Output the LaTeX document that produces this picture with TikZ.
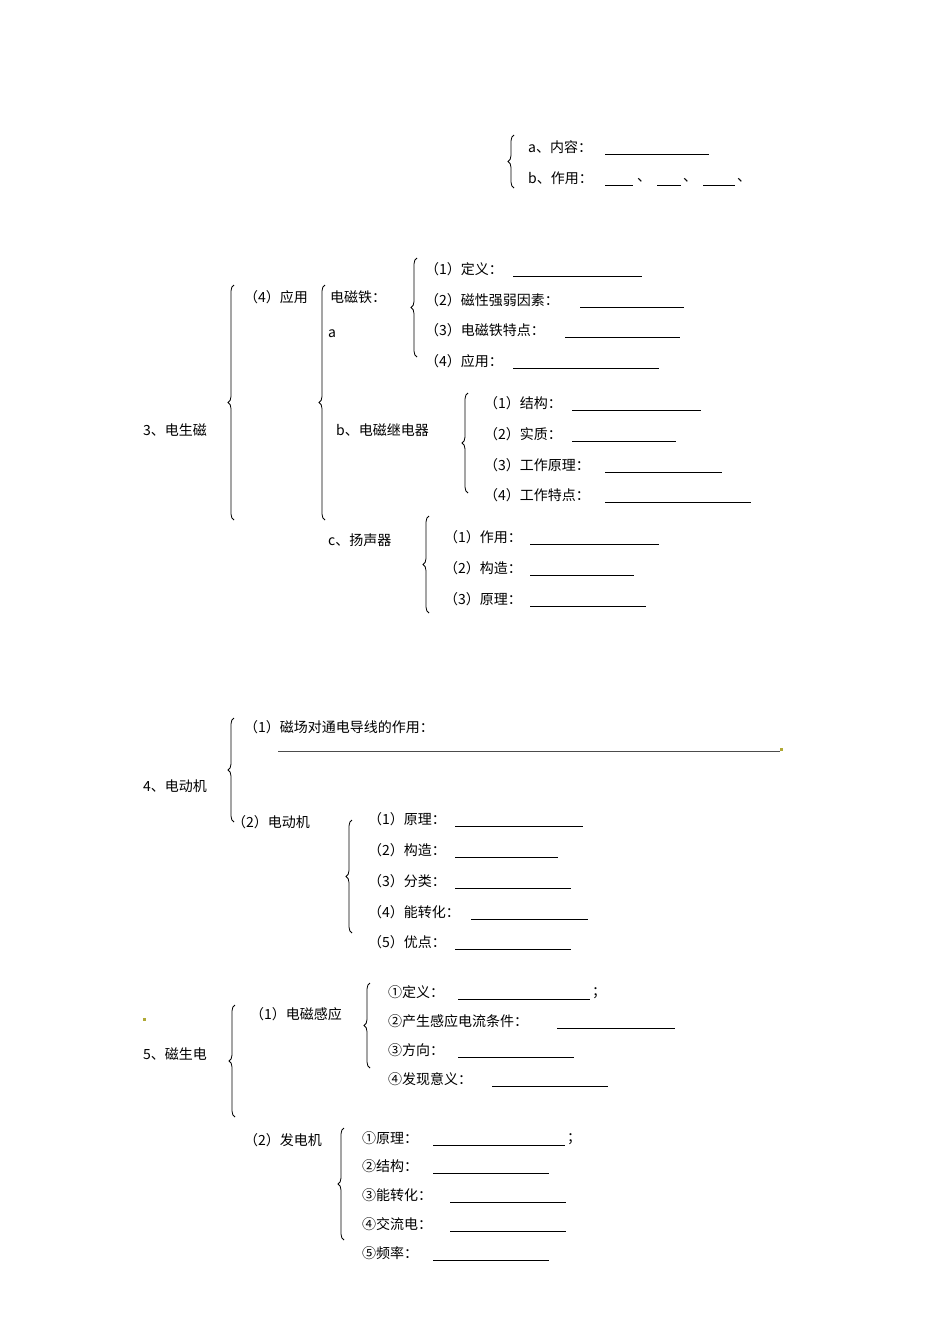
\documentclass[tikz,border=0pt]{standalone}
\usepackage{fontspec}
\setmainfont{Noto Sans CJK SC}
\usetikzlibrary{decorations.pathreplacing}
\tikzset{lbl/.style={anchor=west,inner sep=0pt,font=\fontsize{14}{16}\selectfont},
 blank/.style={line width=0.9pt},
 brc/.style={decorate,decoration={brace,amplitude=6pt,aspect=0.5},line width=0.8pt}}
\newcommand{\itm}[6]{\node[lbl] (#1) at (#2,#3) {#4}; \draw[blank] (#5,#3+7) -- (#6,#3+7);}
\newcommand{\brc}[4]{\draw[brc] (#1,#3) -- (#1,#2) node[pos=0.5] (#4) {};}
\begin{document}
\begin{tikzpicture}[x=1pt,y=-1pt]
\useasboundingbox (0,0) rectangle (950,1344);
% top
\brc{514}{135}{188}{bt}
\itm{ta}{528}{147}{a、内容：}{605}{709}
\node[lbl] (tb) at (528,178) {b、作用：};
\draw[blank] (605,185) -- (633,185); \node[lbl] (tb1) at (637,180) {、};
\draw[blank] (657,185) -- (681,185); \node[lbl] (tb2) at (683,180) {、};
\draw[blank] (703,185) -- (735,185); \node[lbl] (tb3) at (737,180) {、};
% section 3
\node[lbl] (s3) at (143,430) {3、电生磁};
\brc{234}{285}{520}{b3}
\node[lbl] (s34) at (244,297) {（4）应用};
\brc{325}{285}{520}{b34}
\node[lbl] (dct) at (330,297) {电磁铁：};
\node[lbl] (da) at (328,334) {a};
\brc{417}{258}{357}{bdct}
\itm{d1}{425}{269}{（1）定义：}{513}{642}
\itm{d2}{425}{300}{（2）磁性强弱因素：}{580}{684}
\itm{d3}{425}{330}{（3）电磁铁特点：}{565}{680}
\itm{d4}{425}{361}{（4）应用：}{513}{659}
\node[lbl] (jdq) at (336,430) {b、电磁继电器};
\brc{468}{393}{493}{bjdq}
\itm{j1}{484}{403}{（1）结构：}{572}{701}
\itm{j2}{484}{434}{（2）实质：}{572}{676}
\itm{j3}{484}{465}{（3）工作原理：}{605}{722}
\itm{j4}{484}{495}{（4）工作特点：}{605}{751}
\node[lbl] (ysq) at (328,540) {c、扬声器};
\brc{429}{516}{613}{bysq}
\itm{y1}{444}{537}{（1）作用：}{530}{659}
\itm{y2}{444}{568}{（2）构造：}{530}{634}
\itm{y3}{444}{599}{（3）原理：}{530}{646}
% section 4
\node[lbl] (s4) at (143,786) {4、电动机};
\brc{234}{718}{822}{b4}
\node[lbl] (s41) at (244,727) {（1）磁场对通电导线的作用：};
\draw[line width=0.7pt,black!70] (278,751) -- (780,751);
\fill[olive!70] (780,748) rectangle (783,751);
\node[lbl] (s42) at (232,822) {（2）电动机};
\brc{352}{820}{933}{b42}
\itm{m1}{368}{819}{（1）原理：}{455}{583}
\itm{m2}{368}{850}{（2）构造：}{455}{558}
\itm{m3}{368}{881}{（3）分类：}{455}{571}
\itm{m4}{368}{912}{（4）能转化：}{471}{588}
\itm{m5}{368}{942}{（5）优点：}{455}{571}
% section 5
\fill[olive!70] (143,1018) rectangle (146,1021);
\node[lbl] (s5) at (143,1054) {5、磁生电};
\brc{235}{1005}{1117}{b5}
\node[lbl] (s51) at (250,1014) {（1）电磁感应};
\brc{370}{983}{1068}{b51}
\itm{g1}{388}{992}{①定义：}{458}{590}
\node[lbl] (g1s) at (592,993) {；};
\itm{g2}{388}{1021}{②产生感应电流条件：}{557}{675}
\itm{g3}{388}{1050}{③方向：}{458}{574}
\itm{g4}{388}{1079}{④发现意义：}{492}{608}
\node[lbl] (s52) at (244,1140) {（2）发电机};
\brc{344}{1128}{1240}{b52}
\itm{f1}{362}{1138}{①原理：}{433}{565}
\node[lbl] (f1s) at (567,1139) {；};
\itm{f2}{362}{1166}{②结构：}{433}{549}
\itm{f3}{362}{1195}{③能转化：}{450}{566}
\itm{f4}{362}{1224}{④交流电：}{450}{566}
\itm{f5}{362}{1253}{⑤频率：}{433}{549}
\end{tikzpicture}
\end{document}
